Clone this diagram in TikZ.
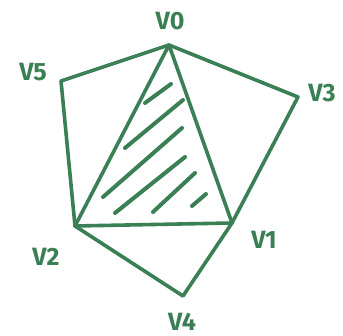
\documentclass[tikz,border=0pt]{standalone}
\usepackage{fontspec}
\setmainfont{Fira Sans}
\definecolor{pen}{RGB}{58,128,84}
\begin{document}
\begin{tikzpicture}[x=1pt,y=-1pt,
  edge/.style={pen,line width=3.6pt,line cap=round,line join=round},
  hatch/.style={pen,line width=4pt,line cap=round},
  vlabel/.style={text=pen,font=\fontsize{25}{25}\selectfont\bfseries,inner sep=0pt}]
\useasboundingbox (0,0) rectangle (343,336);
\fill[white] (0,0) rectangle (343,336);
\coordinate (v0) at (169,45);
\coordinate (v5) at (61,81);
\coordinate (v3) at (298,97);
\coordinate (v1) at (232,223);
\coordinate (v2) at (75,226);
\coordinate (v4) at (183,296);
\node[vlabel] (l0) at (170,21) {V0};
\node[vlabel] (l5) at (33,72) {V5};
\node[vlabel] (l3) at (322,93) {V3};
\node[vlabel] (l1) at (264,240) {V1};
\node[vlabel] (l2) at (46,257) {V2};
\node[vlabel] (l4) at (182,322) {V4};
\draw[edge] (v0) -- (v5) -- (v2);
\draw[edge] (v0) -- (v3) -- (v1);
\draw[edge] (v0) -- (v2) -- (v1) -- cycle;
\draw[edge] (v2) -- (v4) -- (v1);
\coordinate (h1a) at (145,103); \coordinate (h1b) at (171,84);
\coordinate (h2a) at (125,148); \coordinate (h2b) at (183,100);
\coordinate (h3a) at (103,197); \coordinate (h3b) at (182,128);
\coordinate (h4a) at (115,213); \coordinate (h4b) at (185,157);
\coordinate (h5a) at (153,212); \coordinate (h5b) at (195,173);
\coordinate (h6a) at (192,206); \coordinate (h6b) at (206,194);
\foreach \i in {1,...,6} \draw[hatch] (h\i a) -- (h\i b);
\end{tikzpicture}
\end{document}
